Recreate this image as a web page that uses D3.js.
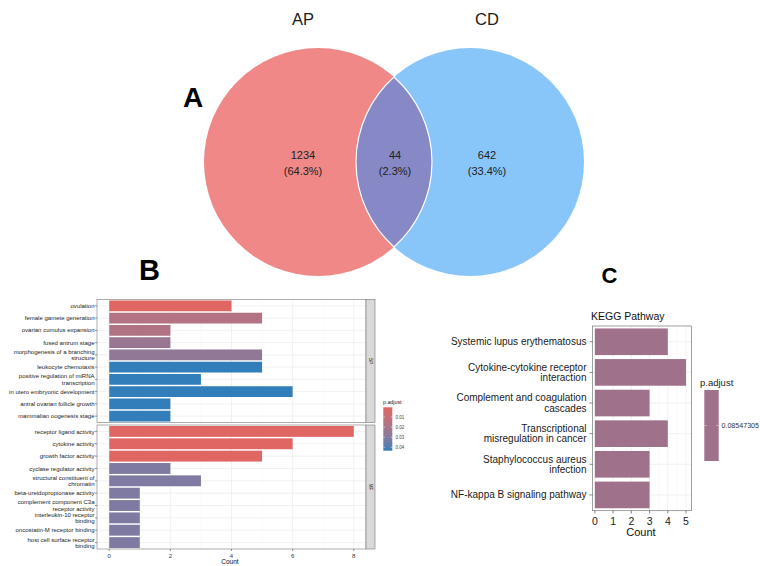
<!DOCTYPE html>
<html><head><meta charset="utf-8">
<script src="https://cdn.jsdelivr.net/npm/d3@7"></script>
<style>body{margin:0;background:#fff}svg{display:block;font-family:"Liberation Sans",Arial,sans-serif}</style>
</head><body><svg id="c" width="760" height="566"></svg>
<script>
// ---------- DATA ----------
const vennLabels = ["AP", "CD"];
const vennCounts = [1234, 44, 642];
const vennPercents = ["64.3%", "2.3%", "33.4%"];

const bpTerms = ["ovulation", "female gamete generation", "ovarian cumulus expansion", "fused antrum stage",
  "morphogenesis of a branching\nstructure", "leukocyte chemotaxis", "positive regulation of miRNA\ntranscription",
  "in utero embryonic development", "antral ovarian follicle growth", "mammalian oogenesis stage"];
const bpCounts = [4, 5, 2, 2, 5, 5, 3, 6, 2, 2];
const bpPadj = [0.0004, 0.016, 0.017, 0.024, 0.026, 0.0434, 0.0434, 0.0434, 0.0434, 0.0434];

const mfTerms = ["receptor ligand activity", "cytokine activity", "growth factor activity", "cyclase regulator activity",
  "structural constituent of\nchromatin", "beta-ureidopropionase activity", "complement component C3a\nreceptor activity",
  "interleukin-10 receptor\nbinding", "oncostatin-M receptor binding", "host cell surface receptor\nbinding"];
const mfCounts = [8, 6, 5, 2, 3, 1, 1, 1, 1, 1];
const mfPadj = [0.0004, 0.0005, 0.0006, 0.031, 0.031, 0.031, 0.031, 0.031, 0.031, 0.031];

const goFacets = ["BP", "MF"];
const goTicks = [0, 2, 4, 6, 8];
const padjTicks = [0.01, 0.02, 0.03, 0.04];

const keggTerms = ["Systemic lupus erythematosus", "Cytokine-cytokine receptor\ninteraction",
  "Complement and coagulation\ncascades", "Transcriptional\nmisregulation in cancer",
  "Staphylococcus aureus\ninfection", "NF-kappa B signaling pathway"];
const keggCounts = [4, 5, 3, 4, 3, 3];
const keggPadj = [0.08547305];
const keggTicks = [0, 1, 2, 3, 4, 5];

// ---------- DRAW ----------
const svg = d3.select("#c");
const defs = svg.append("defs");

function multiText(g, x, y, txt, size, lh, anchor, fill) {
  const lines = txt.split("\n");
  const t = g.append("text").attr("x", x).attr("y", y).attr("font-size", size)
    .attr("text-anchor", anchor).attr("fill", fill);
  lines.forEach((l, i) => {
    t.append("tspan").attr("x", x).attr("y", y + (i - (lines.length - 1) / 2) * lh).attr("dy", "0.35em").text(l);
  });
  return t;
}

// ===== Panel A: Venn =====
const vcy = 162, vr = 114, vcx = [318, 470];
const gA = svg.append("g");
gA.append("circle").attr("cx", vcx[0]).attr("cy", vcy).attr("r", vr).attr("fill", "#F08888");
gA.append("circle").attr("cx", vcx[1]).attr("cy", vcy).attr("r", vr).attr("fill", "#88C6FA");
const xi = (vcx[0] + vcx[1]) / 2, hh = Math.sqrt(vr * vr - Math.pow((vcx[1] - vcx[0]) / 2, 2));
gA.append("path")
  .attr("d", `M${xi},${vcy - hh} A${vr},${vr} 0 0 1 ${xi},${vcy + hh} A${vr},${vr} 0 0 1 ${xi},${vcy - hh} Z`)
  .attr("fill", "#8689C6").attr("stroke", "#fff").attr("stroke-width", 1.2);
vennLabels.forEach((l, i) => {
  gA.append("text").attr("x", [303, 487][i]).attr("y", 25).attr("font-size", 16.5)
    .attr("text-anchor", "middle").attr("fill", "#1a1a1a").text(l);
});
const regionX = [303, 395, 487];
vennCounts.forEach((c, i) => {
  gA.append("text").attr("x", regionX[i]).attr("y", 158.5).attr("font-size", 11).attr("text-anchor", "middle")
    .attr("fill", "#222").text(c);
  gA.append("text").attr("x", regionX[i]).attr("y", 174.5).attr("font-size", 11).attr("text-anchor", "middle")
    .attr("fill", "#222").text("(" + vennPercents[i] + ")");
});
svg.append("text").attr("x", 183).attr("y", 107.3).attr("font-size", 28).attr("font-weight", "bold").text("A");
svg.append("text").attr("x", 139).attr("y", 280).attr("font-size", 29).attr("font-weight", "bold").text("B");
svg.append("text").attr("x", 601.5).attr("y", 282.7).attr("font-size", 22).attr("font-weight", "bold").text("C");

// ===== Panel B: GO facets =====
const allPadj = bpPadj.concat(mfPadj);
const pMin = d3.min(allPadj), pMax = d3.max(allPadj);
const lowC = "#e06663", highC = "#327eba";
const fillScale = d3.scaleLinear().domain([pMin, pMax]).range([lowC, highC]).interpolate(d3.interpolateLab);
const xB = d3.scaleLinear().domain([-0.4, 8.4]).range([97, 366]);
const facetData = [
  { terms: bpTerms, counts: bpCounts, padj: bpPadj, y0: 299.5, y1: 422.5 },
  { terms: mfTerms, counts: mfCounts, padj: mfPadj, y0: 425, y1: 549 }
];
const gB = svg.append("g");
facetData.forEach((f, fi) => {
  const yS = d3.scaleBand().domain(f.terms).range([f.y0, f.y1]).paddingInner(0.12).paddingOuter(0.08);
  const g = gB.append("g");
  g.append("rect").attr("x", xB.range()[0]).attr("y", f.y0).attr("width", xB.range()[1] - xB.range()[0])
    .attr("height", f.y1 - f.y0).attr("fill", "#fff");
  [1, 3, 5, 7].forEach(v => g.append("line").attr("x1", xB(v)).attr("x2", xB(v)).attr("y1", f.y0).attr("y2", f.y1)
    .attr("stroke", "#F4F4F4").attr("stroke-width", 0.5));
  goTicks.forEach(v => g.append("line").attr("x1", xB(v)).attr("x2", xB(v)).attr("y1", f.y0).attr("y2", f.y1)
    .attr("stroke", "#EBEBEB").attr("stroke-width", 0.7));
  f.terms.forEach(t => g.append("line").attr("x1", xB.range()[0]).attr("x2", xB.range()[1])
    .attr("y1", yS(t) + yS.bandwidth() / 2).attr("y2", yS(t) + yS.bandwidth() / 2)
    .attr("stroke", "#EBEBEB").attr("stroke-width", 0.7));
  g.selectAll("rect.bar").data(f.terms).enter().append("rect").attr("class", "bar")
    .attr("x", xB(0)).attr("y", d => yS(d)).attr("width", (d, i) => xB(f.counts[i]) - xB(0))
    .attr("height", yS.bandwidth()).attr("fill", (d, i) => fillScale(f.padj[i]));
  g.append("rect").attr("x", xB.range()[0]).attr("y", f.y0).attr("width", xB.range()[1] - xB.range()[0])
    .attr("height", f.y1 - f.y0).attr("fill", "none").attr("stroke", "#777").attr("stroke-width", 0.6);
  g.append("rect").attr("x", 366).attr("y", f.y0).attr("width", 9).attr("height", f.y1 - f.y0)
    .attr("fill", "#D9D9D9").attr("stroke", "#777").attr("stroke-width", 0.6);
  const sy = (f.y0 + f.y1) / 2;
  g.append("text").attr("transform", `translate(370.5,${sy}) rotate(90)`).attr("text-anchor", "middle")
    .attr("dy", "0.35em").attr("font-size", 4.5).attr("fill", "#1a1a1a").text(goFacets[fi]);
  f.terms.forEach(t => {
    const cy = yS(t) + yS.bandwidth() / 2;
    g.append("line").attr("x1", 95).attr("x2", 97).attr("y1", cy).attr("y2", cy).attr("stroke", "#333").attr("stroke-width", 0.5);
    multiText(g, 94.5, cy, t, 6, 6.3, "end", "#222");
  });
});
const axB = gB.append("g").attr("transform", "translate(0,549)");
goTicks.forEach(v => {
  axB.append("line").attr("x1", xB(v)).attr("x2", xB(v)).attr("y1", 0).attr("y2", 2).attr("stroke", "#333").attr("stroke-width", 0.5);
  axB.append("text").attr("x", xB(v)).attr("y", 8.5).attr("font-size", 6).attr("text-anchor", "middle").attr("fill", "#333").text(v);
});
gB.append("text").attr("x", 230).attr("y", 564).attr("font-size", 6.5).attr("text-anchor", "middle").attr("fill", "#111").text("Count");
const grad = defs.append("linearGradient").attr("id", "gB").attr("x1", 0).attr("x2", 0).attr("y1", 0).attr("y2", 1);
d3.range(0, 1.0001, 0.1).forEach(t => grad.append("stop").attr("offset", t)
  .attr("stop-color", fillScale(pMin + t * (pMax - pMin))));
const yLeg = d3.scaleLinear().domain([pMin, pMax]).range([407.3, 450.7]);
gB.append("text").attr("x", 383).attr("y", 403.5).attr("font-size", 5.3).attr("fill", "#222").text("p.adjust");
gB.append("rect").attr("x", 383.3).attr("y", yLeg(pMin)).attr("width", 9).attr("height", yLeg(pMax) - yLeg(pMin))
  .attr("fill", "url(#gB)");
padjTicks.forEach(v => {
  gB.append("line").attr("x1", 383.3).attr("x2", 385).attr("y1", yLeg(v)).attr("y2", yLeg(v)).attr("stroke", "#fff").attr("stroke-width", 0.5);
  gB.append("line").attr("x1", 390.6).attr("x2", 392.3).attr("y1", yLeg(v)).attr("y2", yLeg(v)).attr("stroke", "#fff").attr("stroke-width", 0.5);
  gB.append("text").attr("x", 395.5).attr("y", yLeg(v)).attr("dy", "0.35em").attr("font-size", 4.5).attr("fill", "#444").text(v.toFixed(2));
});

// ===== Panel C: KEGG =====
const gC = svg.append("g");
const xC = d3.scaleLinear().domain([-0.13, 5.3]).range([592.5, 691.5]);
const yC = d3.scaleBand().domain(keggTerms).range([326, 510.7]).paddingInner(0.13).paddingOuter(0.08);
const keggFill = "#A0718A";
gC.append("text").attr("x", 591).attr("y", 320).attr("font-size", 10.5).attr("fill", "#111").text("KEGG Pathway");
[0.5, 1.5, 2.5, 3.5, 4.5].forEach(v => gC.append("line").attr("x1", xC(v)).attr("x2", xC(v)).attr("y1", 326).attr("y2", 510.7)
  .attr("stroke", "#F4F4F4").attr("stroke-width", 0.5));
keggTicks.forEach(v => gC.append("line").attr("x1", xC(v)).attr("x2", xC(v)).attr("y1", 326).attr("y2", 510.7)
  .attr("stroke", "#EBEBEB").attr("stroke-width", 0.7));
keggTerms.forEach(t => gC.append("line").attr("x1", 592.5).attr("x2", 691.5)
  .attr("y1", yC(t) + yC.bandwidth() / 2).attr("y2", yC(t) + yC.bandwidth() / 2).attr("stroke", "#EBEBEB").attr("stroke-width", 0.7));
gC.selectAll("rect.bar").data(keggTerms).enter().append("rect").attr("class", "bar")
  .attr("x", xC(0)).attr("y", d => yC(d)).attr("width", (d, i) => xC(keggCounts[i]) - xC(0))
  .attr("height", yC.bandwidth()).attr("fill", keggFill);
gC.append("rect").attr("x", 592.5).attr("y", 326).attr("width", 99).attr("height", 184.7)
  .attr("fill", "none").attr("stroke", "#777").attr("stroke-width", 0.7);
keggTerms.forEach(t => {
  const cy = yC(t) + yC.bandwidth() / 2;
  gC.append("line").attr("x1", 589.5).attr("x2", 592.5).attr("y1", cy).attr("y2", cy).attr("stroke", "#333").attr("stroke-width", 0.6);
  multiText(gC, 586.5, cy, t, 10, 10.3, "end", "#1a1a1a");
});
keggTicks.forEach(v => {
  gC.append("line").attr("x1", xC(v)).attr("x2", xC(v)).attr("y1", 510.7).attr("y2", 513.5).attr("stroke", "#333").attr("stroke-width", 0.6);
  gC.append("text").attr("x", xC(v)).attr("y", 524.5).attr("font-size", 10.5).attr("text-anchor", "middle").attr("fill", "#1a1a1a").text(v);
});
gC.append("text").attr("x", 641).attr("y", 535.5).attr("font-size", 11).attr("text-anchor", "middle").attr("fill", "#111").text("Count");
gC.append("text").attr("x", 700).attr("y", 385.5).attr("font-size", 9.5).attr("fill", "#222").text("p.adjust");
gC.append("rect").attr("x", 704.3).attr("y", 390).attr("width", 14.4).attr("height", 71).attr("fill", keggFill);
gC.append("line").attr("x1", 704.3).attr("x2", 707).attr("y1", 425.5).attr("y2", 425.5).attr("stroke", "#ddd").attr("stroke-width", 0.5);
gC.append("line").attr("x1", 716).attr("x2", 718.7).attr("y1", 425.5).attr("y2", 425.5).attr("stroke", "#ddd").attr("stroke-width", 0.5);
gC.append("text").attr("x", 721.5).attr("y", 425.5).attr("dy", "0.35em").attr("font-size", 7.1).attr("fill", "#333").text(keggPadj[0]);
</script></body></html>
